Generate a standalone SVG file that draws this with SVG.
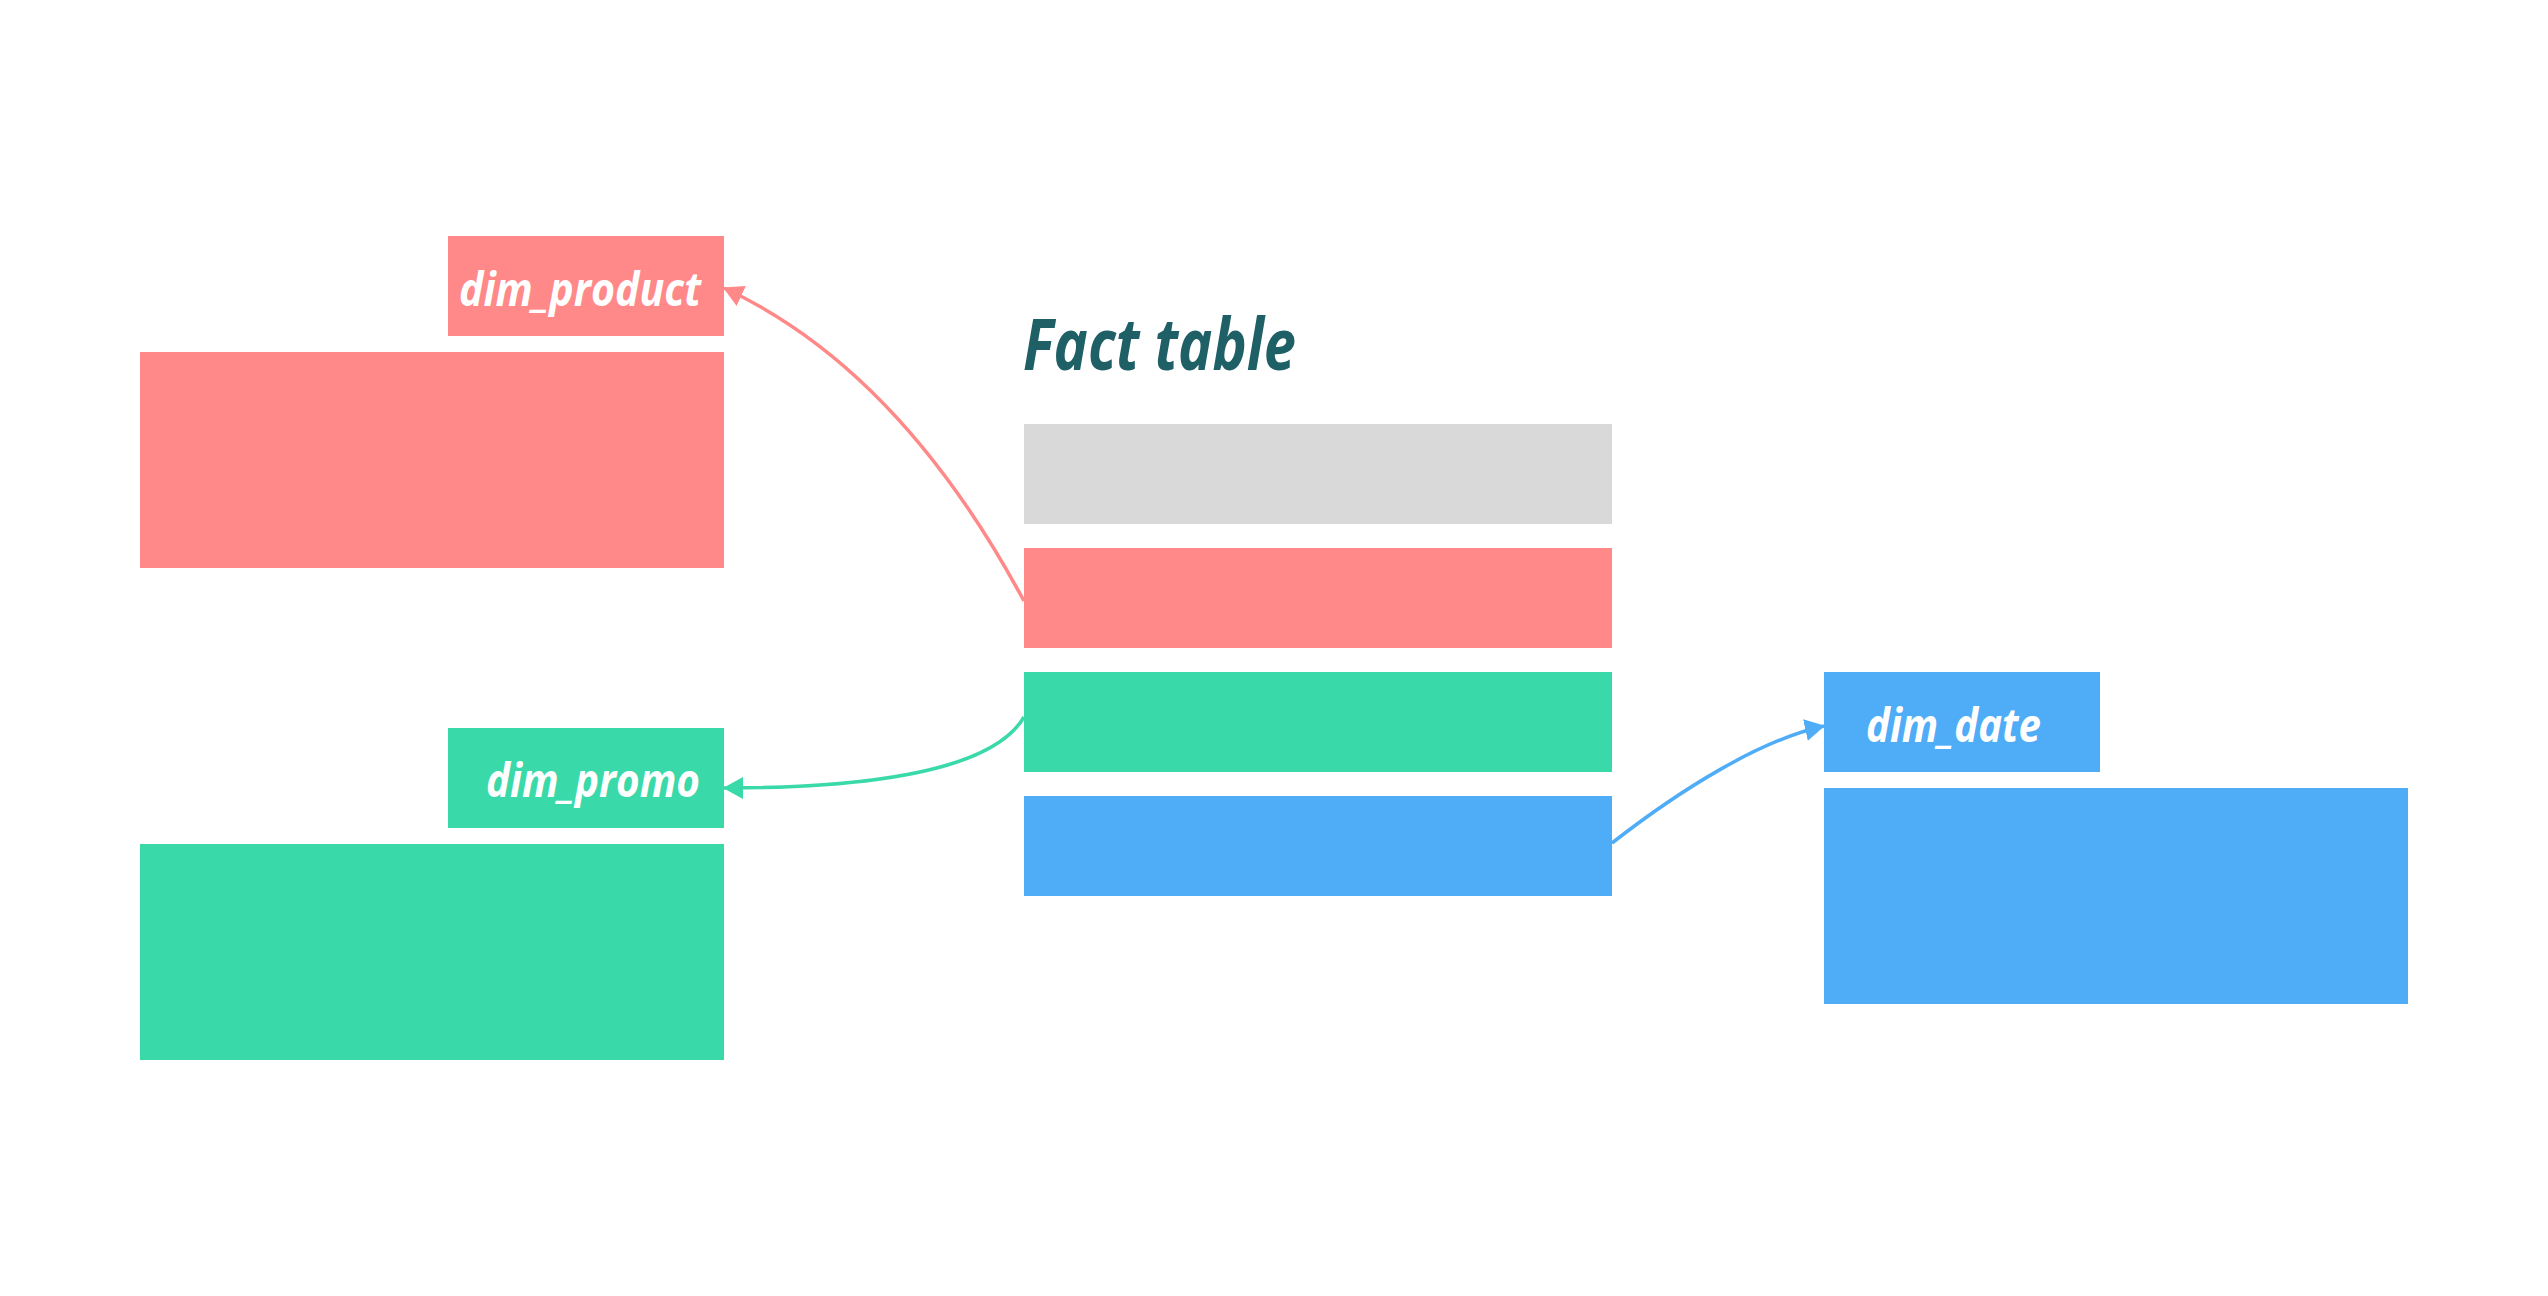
<svg xmlns="http://www.w3.org/2000/svg" width="2548" height="1296" viewBox="0 0 2548 1296">
<style>
.red{fill:#FF8888}
.green{fill:#3AD9A9}
.blue{fill:#4FACF7}
.gray{fill:#D9D9D9}
.lbl{font-family:"Open Sans","Liberation Sans",sans-serif;font-style:italic;font-weight:700;font-size:46px;fill:#FFFFFF}
.title{font-family:"Open Sans","Liberation Sans",sans-serif;font-style:italic;font-weight:700;font-size:72px;fill:#1F5F66}
.conn{fill:none;stroke-width:3.5}
</style>
<defs>
<marker id="ahR" viewBox="0 0 20 22" refX="19" refY="11" markerWidth="20" markerHeight="22" markerUnits="userSpaceOnUse" orient="auto"><path d="M0,0 L20,11 L0,22 z" fill="#FF8888"/></marker>
<marker id="ahG" viewBox="0 0 20 22" refX="19" refY="11" markerWidth="20" markerHeight="22" markerUnits="userSpaceOnUse" orient="auto"><path d="M0,0 L20,11 L0,22 z" fill="#3AD9A9"/></marker>
<marker id="ahB" viewBox="0 0 20 22" refX="19" refY="11" markerWidth="20" markerHeight="22" markerUnits="userSpaceOnUse" orient="auto"><path d="M0,0 L20,11 L0,22 z" fill="#4FACF7"/></marker>
</defs>
<rect width="2548" height="1296" fill="#FFFFFF"/>
<g id="fact_table">
<text class="title" x="1023" y="370" textLength="273" lengthAdjust="spacingAndGlyphs">Fact table</text>
<rect class="gray" x="1024" y="424" width="588" height="100"/>
<rect class="red" x="1024" y="548" width="588" height="100"/>
<rect class="green" x="1024" y="672" width="588" height="100"/>
<rect class="blue" x="1024" y="796" width="588" height="100"/>
</g>
<g id="dim_product">
<rect class="red" x="448" y="236" width="276" height="100"/>
<text class="lbl" x="459" y="306" textLength="242" lengthAdjust="spacingAndGlyphs">dim_product</text>
<rect class="red" x="140" y="352" width="584" height="216"/>
</g>
<g id="dim_promo">
<rect class="green" x="448" y="728" width="276" height="100"/>
<text class="lbl" x="486" y="797" textLength="214" lengthAdjust="spacingAndGlyphs">dim_promo</text>
<rect class="green" x="140" y="844" width="584" height="216"/>
</g>
<g id="dim_date">
<rect class="blue" x="1824" y="672" width="276" height="100"/>
<text class="lbl" x="1866" y="742" textLength="175" lengthAdjust="spacingAndGlyphs">dim_date</text>
<rect class="blue" x="1824" y="788" width="584" height="216"/>
</g>
<g id="connectors">
<path class="conn" stroke="#FF8888" d="M1024,601 C975,510 880,360 724,288" marker-end="url(#ahR)"/>
<path class="conn" stroke="#3AD9A9" d="M1024,717 C990,775 850,788 724,788" marker-end="url(#ahG)"/>
<path class="conn" stroke="#4FACF7" d="M1612,843 C1680,790 1760,740 1824,726" marker-end="url(#ahB)"/>
</g>
</svg>
